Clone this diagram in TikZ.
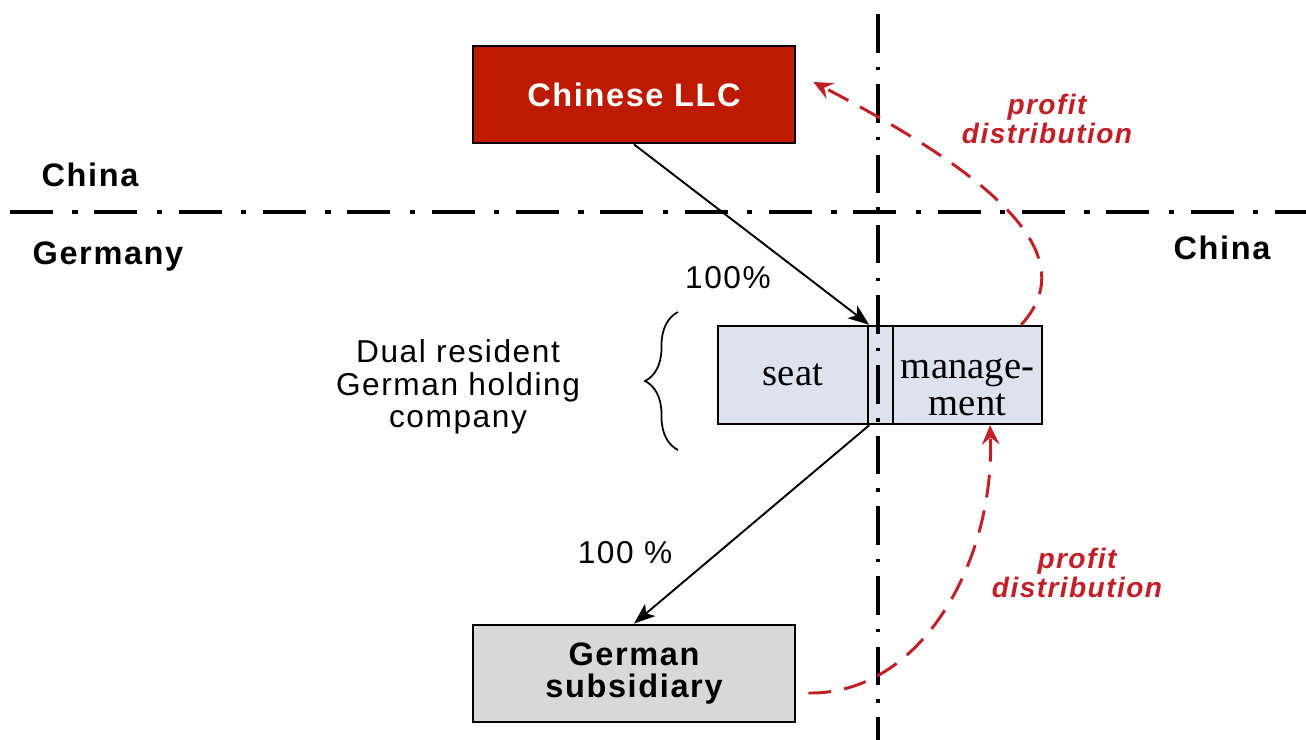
\documentclass[tikz,border=0pt]{standalone}
\usepackage{fontspec}
\setmainfont{Liberation Serif}
\newfontfamily\labelfont[LetterSpace=5]{Liberation Sans}
\usetikzlibrary{arrows.meta,decorations.pathreplacing,calc}
\definecolor{llcred}{RGB}{190,26,0}
\definecolor{seatblue}{RGB}{220,227,239}
\definecolor{subgray}{RGB}{216,216,216}
\definecolor{profitred}{RGB}{192,32,38}
\tikzset{
  company/.style={draw,line width=1.6pt,minimum width=6.44cm,minimum height=1.94cm,align=center,
    font=\labelfont\bfseries\fontsize{18.5}{18}\selectfont},
  cell/.style={draw,line width=1.4pt,fill=seatblue,minimum height=1.96cm,inner sep=0pt,align=center,
    font=\fontsize{22}{21}\selectfont},
  country/.style={font=\labelfont\bfseries\fontsize{18.5}{20}\selectfont},
  share/.style={align=center,font=\labelfont\fontsize{18}{18.5}\selectfont},
  profitlbl/.style={align=center,text=profitred,font=\labelfont\bfseries\itshape\fontsize{16}{16}\selectfont},
  border/.style={line width=2.2pt,dash pattern=on 24.5pt off 11pt on 3pt off 9.5pt},
  profit/.style={profitred,line width=1.7pt,dash pattern=on 13pt off 7.5pt,-{Stealth[length=11pt,width=10pt,inset=4pt]}},
  owns/.style={line width=1.1pt,-{Stealth[length=12pt,width=9pt,inset=3pt]}}
}
\begin{document}
\begin{tikzpicture}[x=0.02cm,y=-0.02cm]
    \useasboundingbox (0,0) rectangle (1306,740);
    \node[company,fill=llcred,text=white] (cll) at (634,94.5) {Chinese LLC};
    \node[company,fill=subgray] (sub) at (634,673.5) {German\\subsidiary};
    \node[cell,minimum width=3cm] (seat) at (793,375) {seat};
    \node[cell,minimum width=0.5cm] (mid) at (880.5,375) {};
    \node[cell,minimum width=2.98cm] (mgmt) at (967.5,375) {};
    \node[cell,draw=none,fill=none] (mgmttext) at ([yshift=-0.24cm]mgmt.center) {manage-\\ment};
    \coordinate (hl) at (10,212);
    \coordinate (hr) at (1306,212);
    \coordinate (vt) at (878,14);
    \coordinate (vb) at (878,740);
    \draw[border] (hl) -- (hr);
    \draw[border,line width=2.7pt,dash pattern=on 22pt off 8pt on 2pt off 8pt] (vt) -- (vb);
    \node[country] (cnl) at (90,175) {China};
    \node[country] (del) at (108,257) {Germany};
    \node[country] (cnr) at (1222,248) {China};
    \node[share] (pct1) at (728,278) {100\%};
    \node[share] (pct2) at (625,553) {100 \%};
    \node[share] (dual) at (458,387) {Dual resident\\German holding\\company};
    \coordinate (bb) at (678,450);
    \coordinate (bt) at (678,312);
    \draw[line width=1pt,decorate,decoration={brace,amplitude=0.66cm}] (bb) -- (bt);
    \draw[owns] (cll.south) -- (seat.north east);
    \draw[owns] (seat.south east) -- (sub.north);
    \draw[profit] ([xshift=-0.44cm]mgmt.north east) .. controls +(62,-68) and +(188,98) .. ([xshift=0.34cm,yshift=0.25cm]cll.east);
    \draw[profit] ([xshift=0.24cm,yshift=-0.39cm]sub.east) .. controls +(113,2) and +(5,136) .. ([xshift=0.45cm]mgmt.south);
    \node[profitlbl] (pd1) at (1047,119) {profit\\distribution};
    \node[profitlbl] (pd2) at (1077,573) {profit\\distribution};
\end{tikzpicture}
\end{document}
